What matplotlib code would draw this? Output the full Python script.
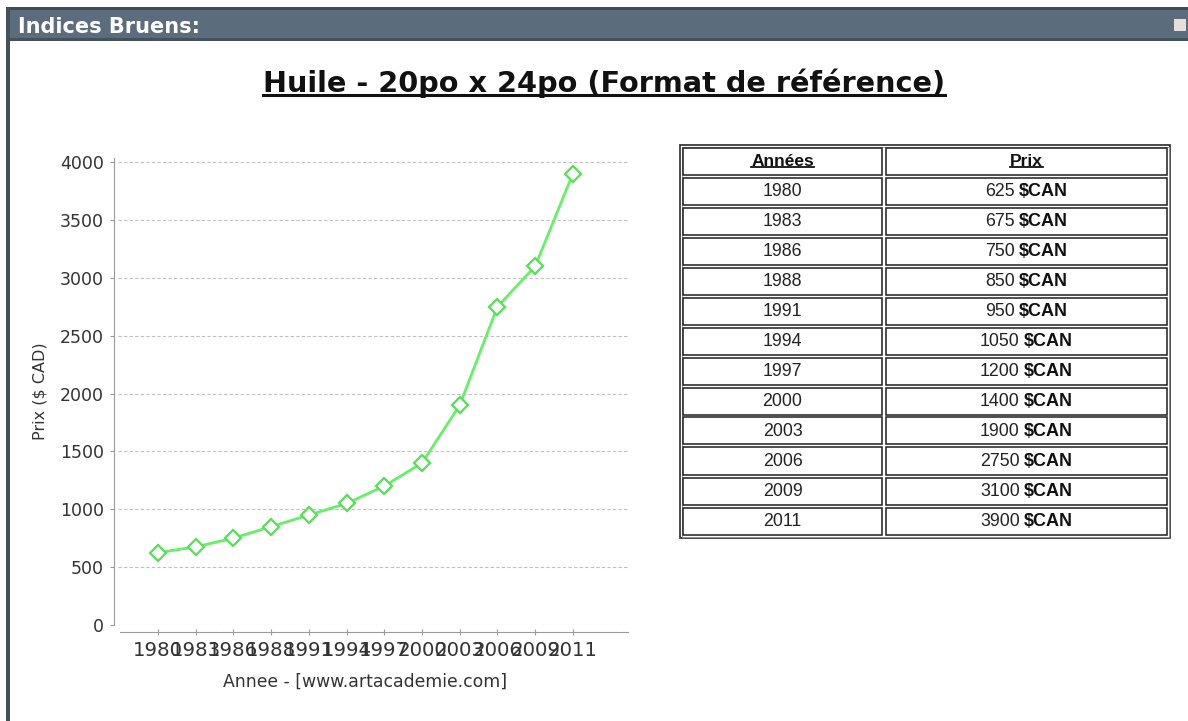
import matplotlib.pyplot as plt
from matplotlib.patches import Rectangle
from matplotlib.lines import Line2D

years = ["1980", "1983", "1986", "1988", "1991", "1994", "1997", "2000", "2003", "2006", "2009", "2011"]
prices = [625, 675, 750, 850, 950, 1050, 1200, 1400, 1900, 2750, 3100, 3900]
yticks = [0, 500, 1000, 1500, 2000, 2500, 3000, 3500, 4000]

W, H = 1188, 721
fig = plt.figure(figsize=(W / 100, H / 100), dpi=100)
fig.patch.set_facecolor("white")


def fx(x):
    return x / W


def fy(y):
    return 1 - y / H


def prect(x0, y0, x1, y1, **kw):
    fig.patches.append(Rectangle((fx(x0), fy(y1)), fx(x1) - fx(x0), fy(y0) - fy(y1),
                                 transform=fig.transFigure, **kw))


# page frame / header bar
prect(6, 8, W, 40, facecolor="#5b6d7c", edgecolor="none")
prect(6, 7, W, 10, facecolor="#3f4c56", edgecolor="none")
prect(6, 38, W, 41, facecolor="#44525c", edgecolor="none")
prect(6, 8, 10, H, facecolor="#44525c", edgecolor="none")
prect(1174, 19, 1186, 31, facecolor="#e4e0d8", edgecolor="none")
fig.text(fx(18), fy(27), "Indices Bruens:", color="white", fontsize=15, fontweight="bold",
         family="DejaVu Sans", ha="left", va="center")

# title
title = fig.text(fx(604), fy(83), "Huile - 20po x 24po (Format de référence)", fontsize=20.7,
                 fontweight="bold", family="DejaVu Sans", ha="center", va="center", color="#111111")

# chart
ax = fig.add_axes([fx(118), fy(625), fx(628) - fx(118), fy(158) - fy(625)])
ax.plot(range(len(years)), prices, color="#66f066", linewidth=2, marker="D", markersize=8,
        markerfacecolor="white", markeredgecolor="#55e055", markeredgewidth=1.6, zorder=3)
ax.set_ylim(0, 4035)
ax.set_xlim(-1.06, 12.46)
ax.set_yticks(yticks)
ax.set_xticks(range(len(years)))
ax.set_xticklabels(years)
ax.yaxis.grid(True, color="#c0c0c0", linestyle=(0, (3, 2)), linewidth=0.8)
ax.set_axisbelow(True)
for s in ["top", "right"]:
    ax.spines[s].set_visible(False)
ax.spines["left"].set_position(("outward", 3))
ax.spines["bottom"].set_position(("outward", 5))
ax.spines["left"].set_color("#9a9a9a")
ax.spines["bottom"].set_color("#9a9a9a")
ax.spines["bottom"].set_bounds(-1.01, 12.46)
ax.tick_params(axis="y", colors="#9a9a9a", labelcolor="#333333", labelsize=12.5, length=3, pad=4)
ax.tick_params(axis="x", colors="#9a9a9a", labelcolor="#333333", labelsize=14.2, length=4,
               direction="inout", pad=4.5)
ax.set_ylabel("Prix ($ CAD)", fontsize=11.5, color="#333333")
ax.yaxis.set_label_coords((40 - 118) / 510, 0.5)
ax.set_xlabel("Annee - [www.artacademie.com]", fontsize=12.4, color="#333333")
ax.xaxis.set_label_coords((365 - 118) / 510, (625 - 682) / 467)
ax.xaxis.label.set_va("center")
ax.yaxis.label.set_va("center")

# table
tx0, tx1 = 680, 1170
ty0, ty1 = 145, 538
prect(tx0, ty0, tx1, ty1, facecolor="white", edgecolor="#3a3a3a", linewidth=1.3)
prect(tx0 + 1.5, ty0 + 1.5, tx1 - 1.5, ty1 - 1.5, facecolor="none", edgecolor="#a0a0a0", linewidth=0.6)
cols = [(683, 882), (886, 1167)]
pitch = 30
rows = [("Années", "Prix")] + list(zip(years, prices))
texts = []
for i, row in enumerate(rows):
    r0 = 147.5 + i * pitch
    r1 = r0 + 27
    for (c0, c1) in cols:
        prect(c0, r0, c1, r1, facecolor="white", edgecolor="#1e1e1e", linewidth=1.1)
    cy = (r0 + r1) / 2 + 0.5
    if i == 0:
        for (c0, c1), lab in zip(cols, row):
            t = fig.text(fx((c0 + c1) / 2), fy(cy), lab, fontsize=12.5, fontweight="bold",
                         family="Liberation Sans", ha="center", va="center", color="#111111")
            texts.append(("u", t))
    else:
        c0, c1 = cols[0]
        fig.text(fx((c0 + c1) / 2), fy(cy), row[0], fontsize=12.8, family="Liberation Sans",
                 ha="center", va="center", color="#222222")
        c0, c1 = cols[1]
        a = fig.text(0, fy(cy), f"{row[1]}", fontsize=12.8, family="Liberation Sans",
                     ha="left", va="center", color="#222222")
        b = fig.text(0, fy(cy), "$CAN", fontsize=13, fontweight="bold", family="Liberation Sans",
                     ha="left", va="center", color="#111111")
        texts.append(("p", (a, b, (c0 + c1) / 2)))

fig.canvas.draw()
r = fig.canvas.get_renderer()


def underline(t, lw, off):
    bb = t.get_window_extent(r)
    y = bb.y0 + off
    fig.lines.append(Line2D([bb.x0 / W, bb.x1 / W], [y / H, y / H], transform=fig.transFigure,
                            color=t.get_color(), linewidth=lw))


underline(title, 2.2, 3)
for kind, obj in texts:
    if kind == "u":
        underline(obj, 1.3, 2)
    else:
        a, b, cx = obj
        wa = a.get_window_extent(r).width
        wb = b.get_window_extent(r).width
        sp = 4.5
        start = cx - (wa + sp + wb) / 2
        a.set_x(fx(start))
        b.set_x(fx(start + wa + sp))

fig.savefig("out.png", dpi=100, facecolor="white")
